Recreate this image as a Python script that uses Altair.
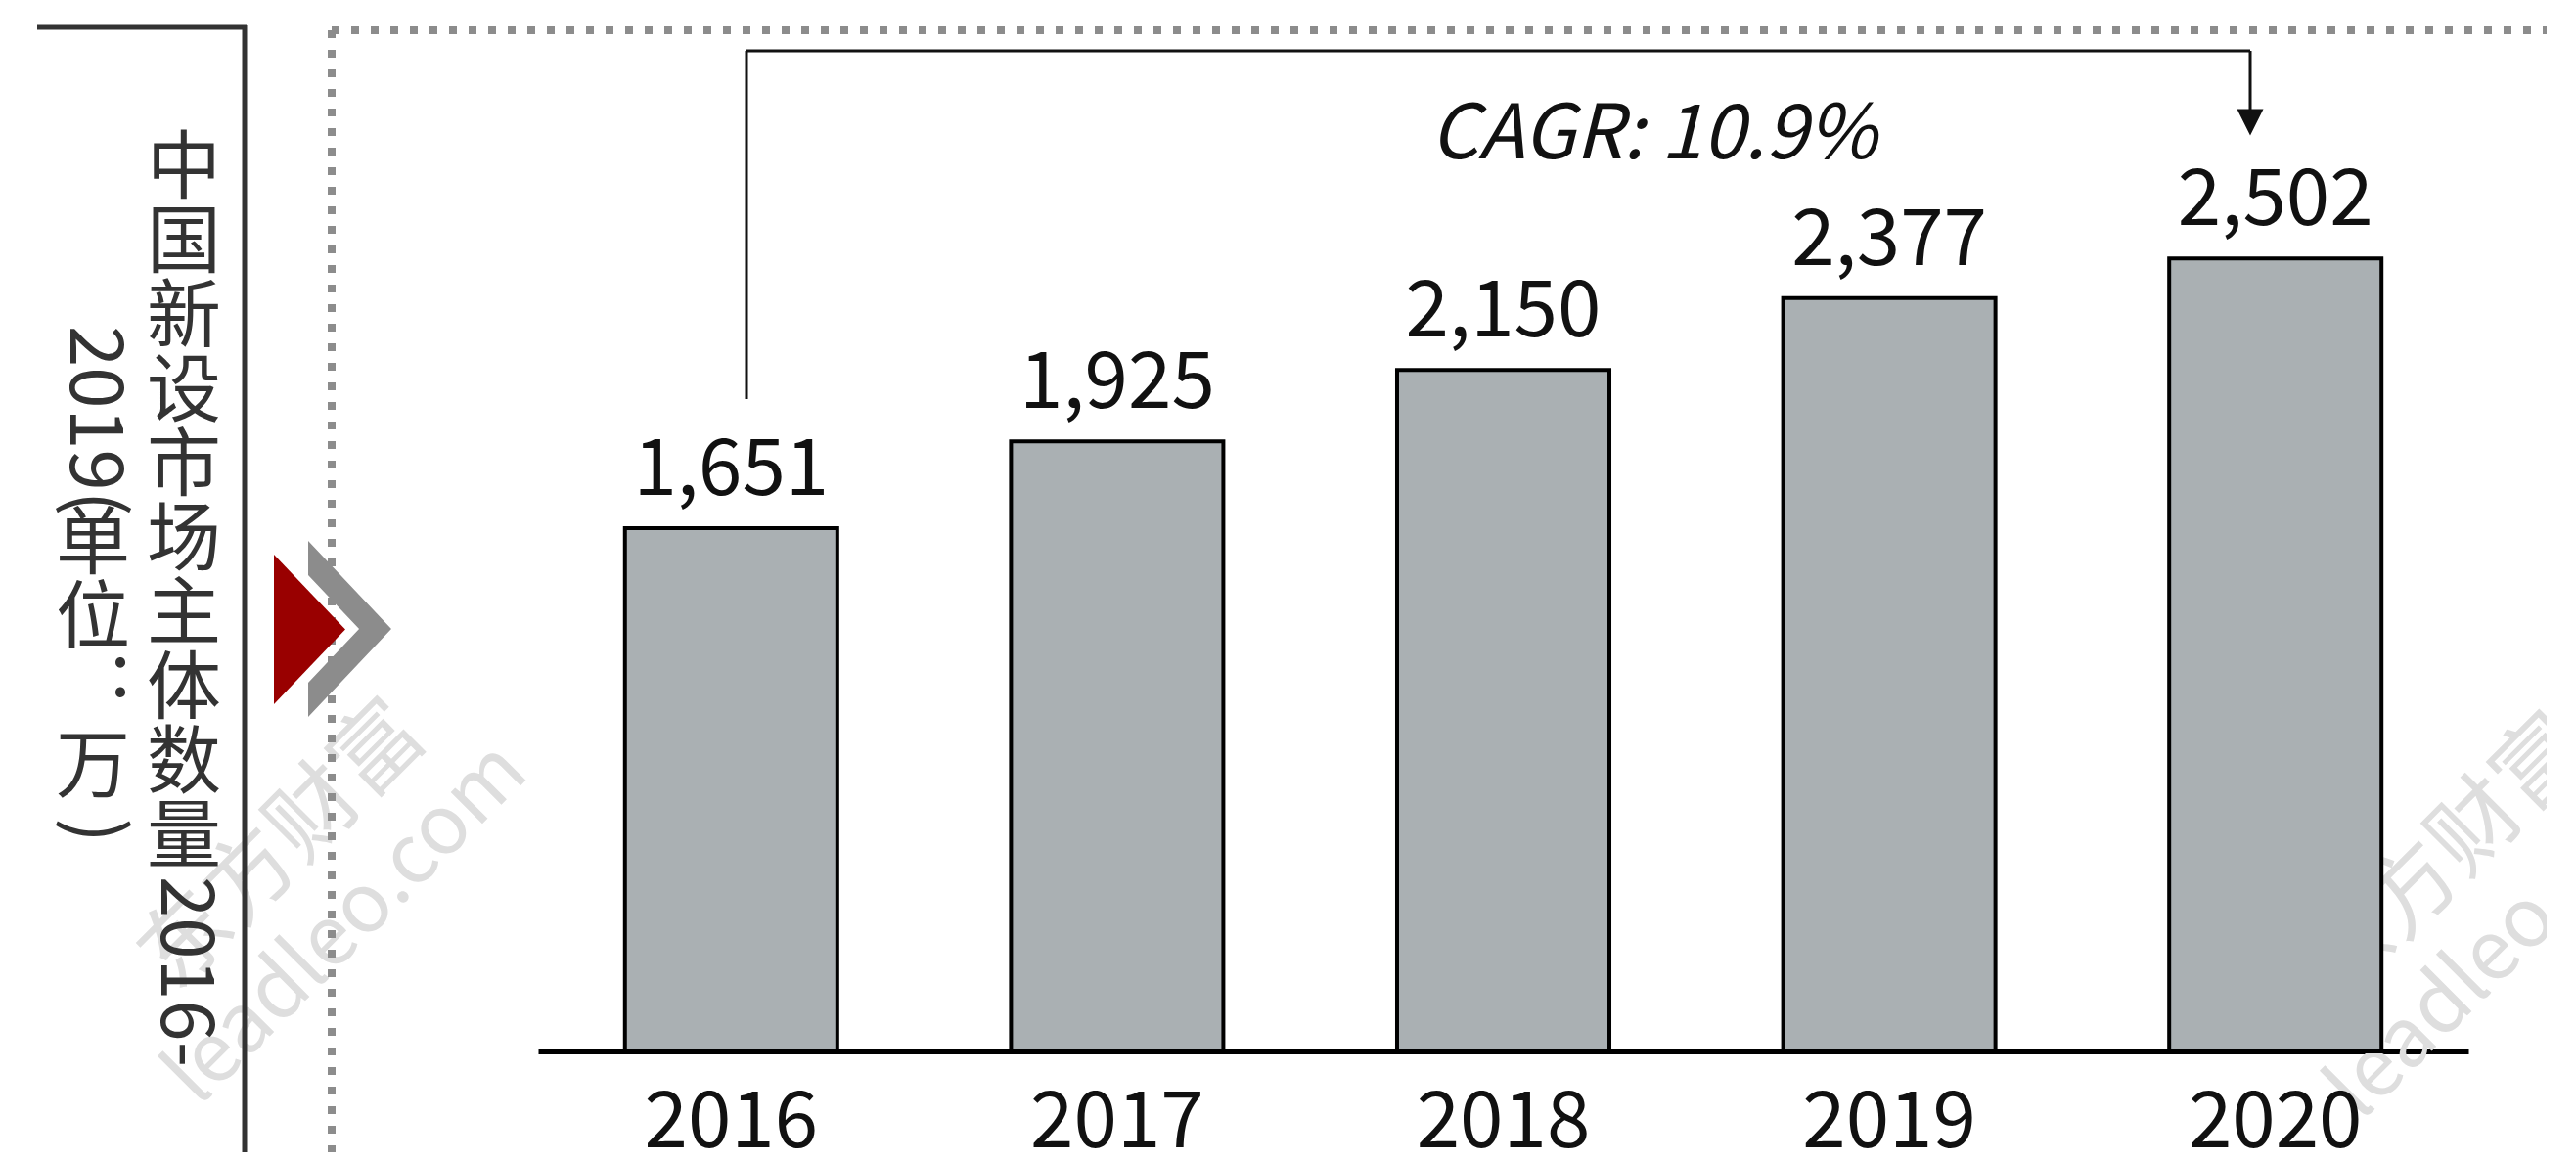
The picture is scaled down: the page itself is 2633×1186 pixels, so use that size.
import altair as alt
import pandas as pd

# ---------------- data ----------------
years = ["2016", "2017", "2018", "2019", "2020"]
counts = [1651, 1925, 2150, 2377, 2502]
cagr_label = "CAGR: 10.9%"
side_line1 = "中国新设市场主体数量"
side_line1_tail = "2016-"
side_line2_head = "2019("
side_line2 = "单位"
side_line2_colon = ":"
side_line2_unit = "万"
side_line2_close = ")"
watermark_cn = "东方财富"
watermark_en = "leadleo.com"

# ---------------- layout ----------------
W, H = 1973, 1045
OX, OY = 550, 30  # page position of the plot origin
PAD_R, PAD_B = 80, 103


def px(X):
    return X - OX


def py(Y):
    return Y - OY


NUMFONT = "Noto Sans CJK SC"
CJK = "Noto Sans CJK SC"
dummy = alt.Data(values=[{}])

df = pd.DataFrame({"year": years, "count": counts})

x_enc = alt.X(
    "year:N",
    sort=years,
    scale=alt.Scale(paddingInner=0.45, paddingOuter=0.225),
    axis=alt.Axis(labels=False, ticks=False, domain=True, domainColor="#000000",
                  domainWidth=5, title=None, grid=False),
)
y_enc = alt.Y("count:Q", scale=alt.Scale(domain=[0, 3225], nice=False), axis=None)


def rule(x1, y1, x2, y2, color, width, dash=None):
    kw = dict(color=color, strokeWidth=width, strokeCap="butt")
    if dash:
        kw["strokeDash"] = dash
    return alt.Chart(dummy).mark_rule(**kw).encode(
        x=alt.value(x1), y=alt.value(y1), x2=alt.value(x2), y2=alt.value(y2)
    )


def label(t, x, y, **kw):
    return alt.Chart(dummy).mark_text(**kw).encode(
        x=alt.value(x), y=alt.value(y), text=alt.value(t)
    )


def shape(path, x, y, size, color):
    return alt.Chart(dummy).mark_point(
        shape=path, filled=True, color=color, size=size, opacity=1, strokeWidth=0
    ).encode(x=alt.value(x), y=alt.value(y))


layers = []

# watermarks (underneath)
wm_kw = dict(font=CJK, color="#dedede", angle=315, align="center", baseline="middle")
layers.append(label(watermark_cn, px(290), py(865), fontSize=92, **wm_kw))
layers.append(label(watermark_en, px(355), py(945), fontSize=84, **wm_kw))
layers.append(label(watermark_cn, px(2500), py(879), fontSize=92, **wm_kw))
layers.append(label(watermark_en, px(2565), py(960), fontSize=84, **wm_kw))

# dotted frame
layers.append(rule(px(339), py(31), W + PAD_R, py(31), "#8c8c8c", 8, [8, 12]))
layers.append(rule(px(339), py(31), px(339), H + PAD_B, "#8c8c8c", 8, [8, 12]))

# black side bracket
layers.append(rule(px(38), py(28), px(252), py(28), "#333333", 5))
layers.append(rule(px(250), py(26), px(250), H + PAD_B, "#333333", 5))

# red triangle and grey chevron
layers.append(shape("M-0.456,-0.956L0.456,0L-0.456,0.956Z", px(316.5), py(643.5), 25600, "#990000"))
layers.append(shape("M-0.472,-1L0.472,0L-0.472,1L-0.472,0.611L0.106,0L-0.472,-0.611Z",
                    px(357.5), py(643), 32400, "#8c8c8c"))

# side title (vertical writing)
side_kw = dict(font=CJK, fontSize=76, color="#333333", align="center", baseline="alphabetic")
for i, ch in enumerate(side_line1):
    layers.append(label(ch, px(188), py(197 + 76 * i), **side_kw))
layers.append(label(side_line1_tail, px(188), py(896), font=CJK, fontSize=76, color="#333333",
                    angle=90, align="left", baseline="middle"))
layers.append(label(side_line2_head, px(95), py(333), font=CJK, fontSize=76, color="#333333",
                    angle=90, align="left", baseline="middle"))
for i, ch in enumerate(side_line2):
    layers.append(label(ch, px(95), py(581 + 76 * i), **side_kw))
layers.append(label(side_line2_colon, px(123), py(712), **side_kw))
layers.append(label(side_line2_unit, px(95), py(809), **side_kw))
layers.append(label(side_line2_close, px(95), py(849), font=CJK, fontSize=76, color="#333333",
                    angle=90, align="center", baseline="middle"))

# bars
bars = alt.Chart(df).mark_bar(fill="#aab0b3", stroke="#000000", strokeWidth=4).encode(
    x=x_enc, y=y_enc
)
layers.append(bars)

values = alt.Chart(df).mark_text(
    font=NUMFONT, fontSize=80, dy=-34, baseline="alphabetic", color="#111111"
).encode(x=x_enc, y=y_enc, text=alt.Text("count:Q", format=","))
layers.append(values)

year_labels = alt.Chart(df).mark_text(
    font=NUMFONT, fontSize=80, baseline="alphabetic", color="#111111"
).encode(x=x_enc, y=alt.value(py(1173)), text="year:N")
layers.append(year_labels)

# CAGR bracket with arrow
layers.append(rule(px(763), py(52), px(763), py(408), "#111111", 3))
layers.append(rule(px(763), py(52), px(2300), py(52), "#111111", 3))
layers.append(rule(px(2300), py(52), px(2300), py(118), "#111111", 3))
layers.append(shape("M-1,-1L1,-1L0,1Z", px(2300), py(125), 729, "#111111"))
layers.append(label(cagr_label, px(1690), py(162), font=NUMFONT, fontSize=77, fontStyle="italic",
                    color="#111111", align="center", baseline="alphabetic"))

chart = alt.layer(*layers).properties(
    width=W,
    height=H,
    autosize=alt.AutoSizeParams(type="none"),
    padding={"left": OX - 8, "top": OY - 8, "right": PAD_R, "bottom": PAD_B},
).configure_view(stroke=None)

chart.save("out.html", embed_options={"renderer": "svg", "actions": False})
